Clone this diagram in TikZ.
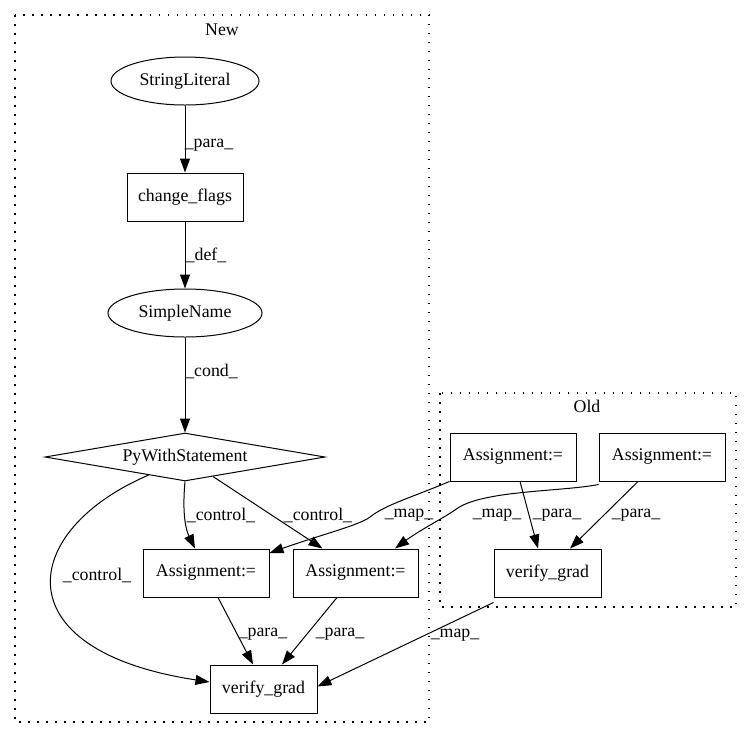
\documentclass[tikz,border=0pt]{standalone}
\usepackage{fontspec}
\setmainfont{Liberation Serif}
\usetikzlibrary{shapes.geometric,arrows.meta,calc}
\begin{document}
\begin{tikzpicture}[x=1pt,y=-1pt,
  every node/.style={font=\fontsize{17.8}{20}\selectfont},
  box/.style={draw, rectangle, minimum height=48pt, inner sep=0pt, line width=1pt},
  ell/.style={draw, ellipse, minimum height=48pt, inner sep=0pt, line width=1pt},
  dia/.style={draw, diamond, aspect=5.83, minimum width=280pt, minimum height=48pt, inner sep=0pt, line width=1pt},
  edge/.style={draw, line width=1pt, -{Triangle[length=14pt,width=10pt]}},
  lbl/.style={inner sep=0pt},
  cluster/.style={draw, line width=1.2pt, dash pattern=on 1.5pt off 7.5pt}]
\useasboundingbox (0,0) rectangle (752,740);
% clusters
\draw[cluster] (15,15) rectangle (429,722);
\node[lbl] (newlbl) at (222,30) {New};
\draw[cluster] (440,393) rectangle (736,607);
\node[lbl] (oldlbl) at (587,406) {Old};
% nodes
\node[ell, minimum width=148pt] (sl) at (185,81) {StringLiteral};
\node[box, minimum width=116pt] (cf) at (185,197) {change\_flags};
\node[ell, minimum width=154pt] (sn) at (185,313) {SimpleName};
\node[dia] (pw) at (185,457) {};
\node (pwt) at (185,457) {PyWithStatement};
\node[box, minimum width=126pt] (al) at (206,573) {Assignment:=};
\node[box, minimum width=125pt] (ar) at (355.5,573) {Assignment:=};
\node[box, minimum width=107pt] (vg) at (263.5,689) {verify\_grad};
\node[box, minimum width=126pt] (oal) at (513,457) {Assignment:=};
\node[box, minimum width=126pt] (oar) at (662,457) {Assignment:=};
\node[box, minimum width=107pt] (ovg) at (547.5,573) {verify\_grad};
% edges
\draw[edge] (sl) -- (cf);
\node[lbl] (l1) at (209,145) {\_para\_};
\draw[edge] (cf) -- (sn);
\node[lbl] (l2) at (206,255) {\_def\_};
\draw[edge] (sn) -- (pw.north);
\node[lbl] (l3) at (211.5,371) {\_cond\_};
\draw[edge] (pw.south) .. controls (182,515) and (186,530) .. ([xshift=-11pt]al.north);
\node[lbl] (l4) at (221,515) {\_control\_};
\draw[edge] ($(pw.south)!0.2!(pw.east)$) -- ([xshift=-33pt]ar.north);
\node[lbl] (l5) at (318,515) {\_control\_};
\draw[edge] ($(pw.south)!0.26!(pw.west)$) .. controls (20,530) and (0,650) .. (vg.west |- 0,682);
\node[lbl] (l6) at (97,575) {\_control\_};
\draw[edge] (oal.south west) .. controls (410,498) and (385,505) .. (370,517) .. controls (360,525) and (320,535) .. (al.east |- 0,553);
\node[lbl] (l7) at (409,515) {\_map\_};
\draw[edge] ([yshift=-3pt]oar.south west) .. controls (560,492) and (480,490) .. (455,510) .. controls (440,520) and (420,530) .. ([xshift=39.5pt]ar.north);
\node[lbl] (l8) at (497,515) {\_map\_};
\draw[edge] ([xshift=7pt]oal.south) -- ([xshift=-9.5pt]ovg.north);
\node[lbl] (l9) at (557,515) {\_para\_};
\draw[edge] ([xshift=-24pt]oar.south) -- ([xshift=22.5pt]ovg.north);
\node[lbl] (l10) at (636,515) {\_para\_};
\draw[edge] ([xshift=12pt]al.south) -- ([xshift=-10.5pt]vg.north);
\node[lbl] (l11) at (263,634) {\_para\_};
\draw[edge] ([xshift=-18.5pt]ar.south) -- ([xshift=18.5pt]vg.north);
\node[lbl] (l12) at (340,634) {\_para\_};
\draw[edge] ([yshift=-5pt]ovg.south west) -- ([yshift=-22pt]vg.north east);
\node[lbl] (l13) at (455,635) {\_map\_};
\end{tikzpicture}
\end{document}
